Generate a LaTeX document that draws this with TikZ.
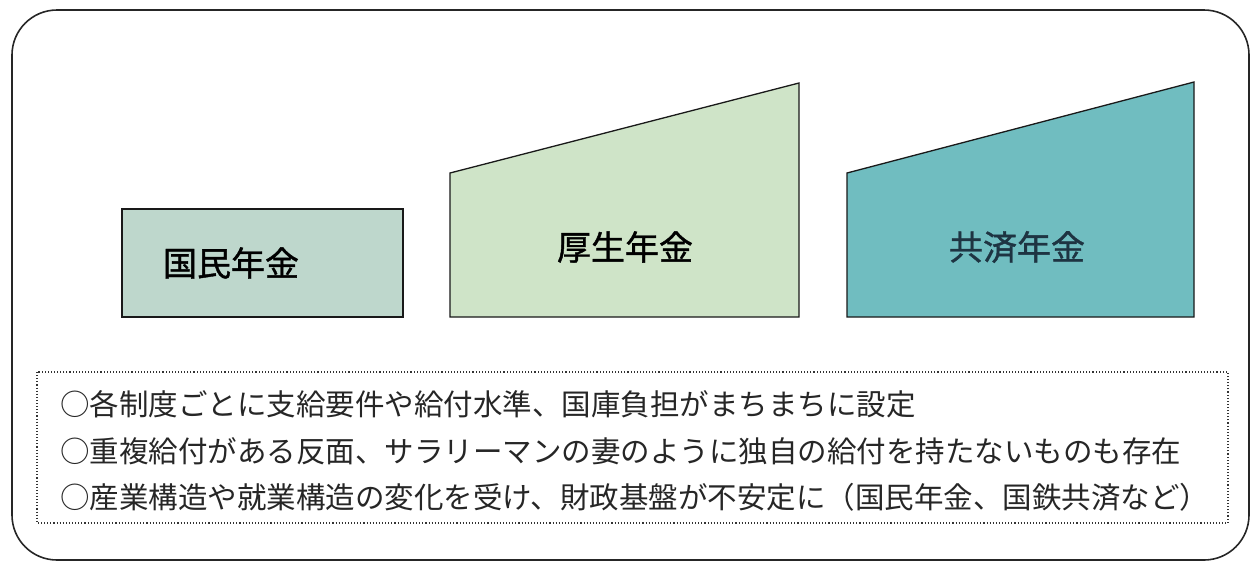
\documentclass[tikz,border=0pt]{standalone}
\usepackage{fontspec}
\newfontfamily\jp{Noto Sans CJK JP}
\newfontfamily\jpbold[FakeBold=1.2]{Noto Sans CJK JP}
\definecolor{kokumin}{HTML}{BED7CC}
\definecolor{kosei}{HTML}{CFE4C8}
\definecolor{kyosai}{HTML}{70BDC0}
\definecolor{kyosaitext}{HTML}{1E3442}
\tikzset{
  outerframe/.style={draw=black!85, line width=1.6pt, rounded corners=45pt},
  pillar/.style={draw=black!90, line width=1.3pt},
  pillarlabel/.style={font=\jpbold\fontsize{34}{40}\selectfont, inner sep=0pt, anchor=center},
  notebox/.style={draw=black!80, line width=1.1pt, dotted},
  noteline/.style={font=\jp\fontsize{29.5}{34}\selectfont, inner sep=0pt, anchor=west, text=black!85},
}
\begin{document}
\begin{tikzpicture}[x=1pt,y=-1pt]
\useasboundingbox (0,0) rectangle (1252,563);
% outer frame
\draw[outerframe] (12,10) rectangle (1249,560);
% pillars
\draw[pillar, fill=kokumin] (122,209) rectangle (403,317);
\draw[pillar, fill=kosei] (450,173) -- (799,83) -- (799,317) -- (450,317) -- cycle;
\draw[pillar, fill=kyosai] (847,173) -- (1194,82) -- (1194,317) -- (847,317) -- cycle;
\node[pillarlabel] (kokumin) at (231,263) {国民年金};
\node[pillarlabel] (kosei) at (625,247) {厚生年金};
\node[pillarlabel, text=kyosaitext] (kyosai) at (1017,247) {共済年金};
% notes
\draw[notebox] (37,372) rectangle (1228,523);
\node[noteline] (n1) at (60,404) {○各制度ごとに支給要件や給付水準、国庫負担がまちまちに設定};
\node[noteline] (n2) at (60,451) {○重複給付がある反面、サラリーマンの妻のように独自の給付を持たないものも存在};
\node[noteline] (n3) at (60,497) {○産業構造や就業構造の変化を受け、財政基盤が不安定に（国民年金、国鉄共済など）};
\end{tikzpicture}
\end{document}
